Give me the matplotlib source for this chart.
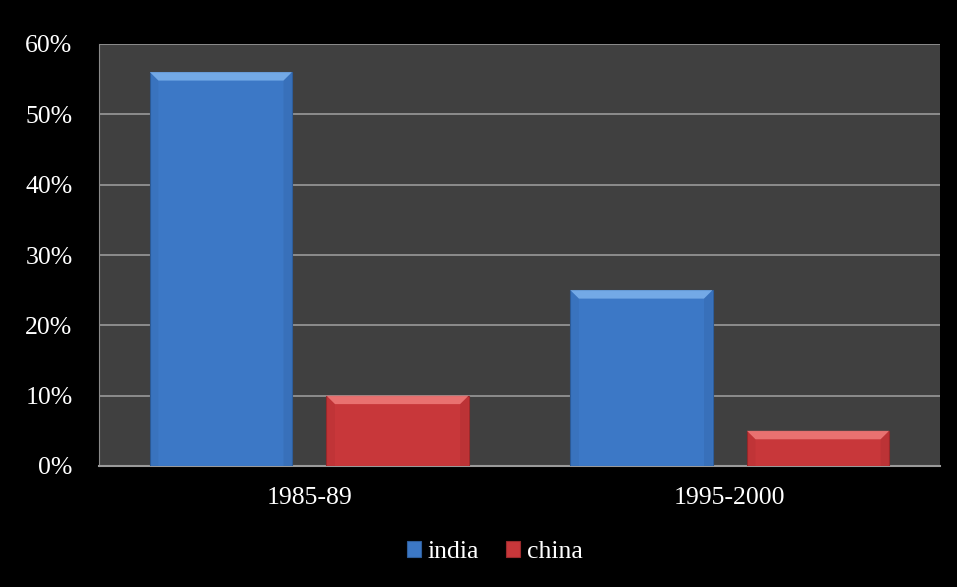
import numpy as np
import matplotlib.pyplot as plt
from matplotlib.patches import Polygon

plt.rcParams['font.family'] = ['Liberation Serif', 'DejaVu Serif']

# data
periods = ['1985-89', '1995-2000']
india = [0.56, 0.25]
china = [0.10, 0.05]
yticks = [0, 0.1, 0.2, 0.3, 0.4, 0.5, 0.6]

blue = '#3c78c6'
red = '#c8373a'
blue_hi = '#7db2ec'
red_hi = '#f07c7a'

fig = plt.figure(figsize=(9.57, 5.87), dpi=100, facecolor='black')
ax = fig.add_axes([99 / 957, 1 - 466 / 587, (940 - 99) / 957, (466 - 44) / 587])
ax.set_facecolor('#404040')

x = np.arange(len(periods))
w = 0.338
off = 0.21
b1 = ax.bar(x - off, india, w, color=blue, edgecolor='#2e5d9a', linewidth=0.8, zorder=3, label='india')
b2 = ax.bar(x + off, china, w, color=red, edgecolor='#9a2a2c', linewidth=0.8, zorder=3, label='china')

# bevel highlight on top of each bar, slight shade at the sides
for bars, hi in [(b1, blue_hi), (b2, red_hi)]:
    for b in bars:
        x0, bw, h = b.get_x(), b.get_width(), b.get_height()
        dx = bw * 0.06
        dy = 0.012
        ax.add_patch(Polygon([(x0, h), (x0 + bw, h), (x0 + bw - dx, h - dy), (x0 + dx, h - dy)],
                             closed=True, facecolor=hi, edgecolor='none', alpha=0.85, zorder=4))
        ax.add_patch(Polygon([(x0, 0), (x0, h), (x0 + dx, h - dy), (x0 + dx, 0)],
                             closed=True, facecolor='black', edgecolor='none', alpha=0.04, zorder=4))
        ax.add_patch(Polygon([(x0 + bw, 0), (x0 + bw, h), (x0 + bw - dx, h - dy), (x0 + bw - dx, 0)],
                             closed=True, facecolor='black', edgecolor='none', alpha=0.06, zorder=4))

ax.set_xlim(-0.5, 1.5)
ax.set_ylim(0, 0.6)
ax.set_yticks(yticks)
ax.set_yticklabels([f'{int(round(t * 100))}%' for t in yticks])
ax.set_xticks(x)
ax.set_xticklabels(periods)
ax.yaxis.grid(True, color='#9a9a9a', linewidth=1.2, zorder=1)
ax.set_axisbelow(True)
ax.tick_params(axis='both', colors='white', labelsize=18.5, length=0)
ax.tick_params(axis='y', pad=19)
ax.tick_params(axis='x', pad=15)
for s in ['top', 'right']:
    ax.spines[s].set_visible(False)
ax.spines['left'].set_color('#8a8a8a')
ax.spines['left'].set_linewidth(0.8)
ax.spines['bottom'].set_color('#9a9a9a')
ax.spines['bottom'].set_linewidth(1.5)

leg = fig.legend(handles=[b1, b2], loc='center', bbox_to_anchor=(495 / 957, 1 - 552 / 587), ncol=2,
                 frameon=False, fontsize=18.5, handlelength=0.55, handleheight=0.55,
                 handletextpad=0.25, columnspacing=1.05)
for t in leg.get_texts():
    t.set_color('white')

fig.savefig('out.png', dpi=100, facecolor='black')
